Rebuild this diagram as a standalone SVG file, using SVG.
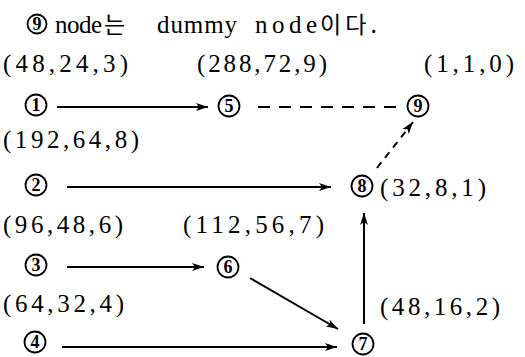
<svg xmlns="http://www.w3.org/2000/svg" width="525" height="357" viewBox="0 0 525 357">
<defs>
<marker id="ah" viewBox="0 0 12 8" refX="12" refY="4" markerWidth="12" markerHeight="8" markerUnits="userSpaceOnUse" orient="auto">
<path d="M0,0 L12,4 L0,8 L3,4 Z" fill="#000"/>
</marker>
<style>
.lbl{font-family:"Liberation Serif","Times New Roman","DejaVu Serif",serif;font-size:25px;fill:#000}
.c{fill:#fff;stroke:#000;stroke-width:1.8}
.cd{font-family:"Liberation Serif","Times New Roman","DejaVu Serif",serif;font-size:18px;font-weight:bold;fill:#000;text-anchor:middle}
.ttl{font-family:"Liberation Serif","Times New Roman","DejaVu Serif",serif;font-size:25px;fill:#000}
.kr{font-family:"Noto Sans CJK KR",sans-serif;font-size:23px;fill:#000}
.e{stroke:#000;stroke-width:2;fill:none;marker-end:url(#ah)}
.d{stroke:#000;stroke-width:2;fill:none;stroke-dasharray:12 9}
</style>
</defs>
<rect width="525" height="357" fill="#fff"/>
<g id="title">
<circle class="c" cx="37" cy="24" r="9.5"/>
<text class="cd" x="37" y="30">9</text>
<text class="ttl" x="55" y="33" textLength="47" lengthAdjust="spacing">node</text>
<text class="kr" x="104" y="33">는</text>
<text class="ttl" x="157" y="33" textLength="80" lengthAdjust="spacing">dummy</text>
<text class="ttl" x="255" y="33" textLength="62" lengthAdjust="spacing">node</text>
<text class="kr" x="320" y="33" textLength="57" lengthAdjust="spacing">이다.</text>
</g>
<g id="labels">
<text class="lbl" x="3" y="72" textLength="125" lengthAdjust="spacing">(48,24,3)</text>
<text class="lbl" x="197" y="72" textLength="130" lengthAdjust="spacing">(288,72,9)</text>
<text class="lbl" x="424" y="72" textLength="90" lengthAdjust="spacing">(1,1,0)</text>
<text class="lbl" x="3" y="148" textLength="136" lengthAdjust="spacing">(192,64,8)</text>
<text class="lbl" x="3" y="233" textLength="120" lengthAdjust="spacing">(96,48,6)</text>
<text class="lbl" x="183" y="233" textLength="141" lengthAdjust="spacing">(112,56,7)</text>
<text class="lbl" x="3" y="312" textLength="121" lengthAdjust="spacing">(64,32,4)</text>
<text class="lbl" x="380" y="196" textLength="106" lengthAdjust="spacing">(32,8,1)</text>
<text class="lbl" x="380" y="315" textLength="120" lengthAdjust="spacing">(48,16,2)</text>
</g>
<g id="n1"><circle class="c" cx="36" cy="105" r="10.5"/><text class="cd" x="36" y="111">1</text></g>
<g id="n5"><circle class="c" cx="229" cy="106" r="10.5"/><text class="cd" x="229" y="112">5</text></g>
<g id="n9"><circle class="c" cx="418" cy="106" r="10.5"/><text class="cd" x="418" y="112">9</text></g>
<g id="n2"><circle class="c" cx="36" cy="185" r="10.5"/><text class="cd" x="36" y="191">2</text></g>
<g id="n8"><circle class="c" cx="362" cy="186" r="10.5"/><text class="cd" x="362" y="192">8</text></g>
<g id="n3"><circle class="c" cx="36" cy="265" r="10.5"/><text class="cd" x="36" y="271">3</text></g>
<g id="n6"><circle class="c" cx="228" cy="267" r="10.5"/><text class="cd" x="228" y="273">6</text></g>
<g id="n4"><circle class="c" cx="35" cy="342" r="10.5"/><text class="cd" x="35" y="348">4</text></g>
<g id="n7"><circle class="c" cx="363" cy="344" r="10.5"/><text class="cd" x="363" y="350">7</text></g>
<g id="connectors">
<line class="e" x1="57" y1="107" x2="208" y2="107"/>
<line class="d" x1="258" y1="107" x2="396" y2="107"/>
<line class="e" x1="377" y1="168" x2="413" y2="122" stroke-dasharray="7 6"/>
<line class="e" x1="67" y1="187" x2="331" y2="187"/>
<line class="e" x1="67" y1="267" x2="204" y2="267"/>
<line class="e" x1="250" y1="278" x2="338" y2="329"/>
<line class="e" x1="62" y1="347" x2="337" y2="347"/>
<line class="e" x1="364" y1="324" x2="364" y2="213"/>
</g>
</svg>
